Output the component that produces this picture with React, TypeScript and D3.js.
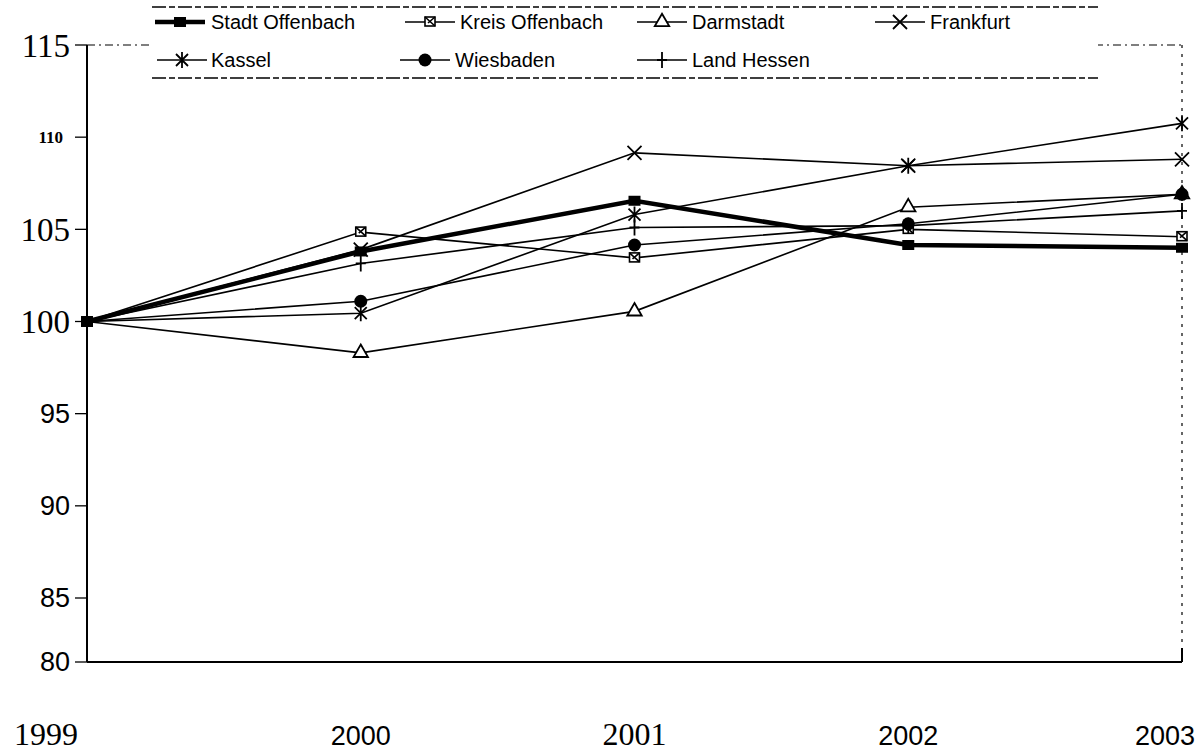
import React from "react";
import * as d3 from "d3";

const years = [1999, 2000, 2001, 2002, 2003];
const stadtOffenbach = [100, 103.8, 106.55, 104.15, 104.0];
const kreisOffenbach = [100, 104.85, 103.45, 105.0, 104.6];
const darmstadt = [100, 98.3, 100.55, 106.2, 106.9];
const frankfurt = [100, 103.9, 109.15, 108.45, 108.8];
const kassel = [100, 100.45, 105.8, 108.45, 110.75];
const wiesbaden = [100, 101.1, 104.15, 105.3, 106.9];
const landHessen = [100, 103.15, 105.1, 105.2, 106.0];

const yTicks = [80, 85, 90, 95, 100, 105, 110, 115];
const yTickFonts = ["sans", "sans", "sans", "sans", "serif", "serif", "serifBold", "serif"];
const xTickFonts = ["serif", "sans", "serif", "sans", "sans"];

type Marker = "square" | "kreis" | "triangle" | "x" | "star" | "circle" | "plus";
const seriesNames = ["Stadt Offenbach", "Kreis Offenbach", "Darmstadt", "Frankfurt", "Kassel", "Wiesbaden", "Land Hessen"];
const seriesValues = [stadtOffenbach, kreisOffenbach, darmstadt, frankfurt, kassel, wiesbaden, landHessen];
const seriesMarkers: Marker[] = ["square", "kreis", "triangle", "x", "star", "circle", "plus"];

const W = 1196;
const H = 754;

const x = d3.scaleLinear().domain([1999, 2003]).range([87, 1182]);
// the scanned original compresses the lowest band slightly
const y = d3.scaleLinear().domain([80, 85, 115]).range([662, 598, 45]);

function MarkerShape({ type, cx, cy }: { type: Marker; cx: number; cy: number }) {
  const k = "#000";
  switch (type) {
    case "square":
      return <rect x={cx - 6} y={cy - 5} width={12} height={10} fill={k} />;
    case "kreis":
      return (
        <g stroke={k} strokeWidth={1.6} fill="#fff">
          <rect x={cx - 5} y={cy - 5} width={10} height={9} />
          <path d={`M${cx - 5},${cy - 5}L${cx + 5},${cy + 4}M${cx + 5},${cy - 5}L${cx - 2},${cy + 1}`} />
        </g>
      );
    case "triangle":
      return (
        <path
          d={d3.symbol().type(d3.symbolTriangle).size(90)()!}
          transform={`translate(${cx},${cy})`}
          fill="#fff"
          stroke={k}
          strokeWidth={1.8}
        />
      );
    case "x":
      return (
        <path
          d={`M${cx - 7},${cy - 7}L${cx + 7},${cy + 7}M${cx + 7},${cy - 7}L${cx - 7},${cy + 7}`}
          stroke={k}
          strokeWidth={1.8}
        />
      );
    case "star":
      return (
        <path
          d={`M${cx - 6},${cy - 6}L${cx + 6},${cy + 6}M${cx + 6},${cy - 6}L${cx - 6},${cy + 6}M${cx},${cy - 8}L${cx},${cy + 8}`}
          stroke={k}
          strokeWidth={1.8}
        />
      );
    case "circle":
      return <circle cx={cx} cy={cy} r={6.5} fill={k} />;
    case "plus":
      return <path d={`M${cx},${cy - 8}L${cx},${cy + 8}M${cx - 5},${cy}L${cx + 5},${cy}`} stroke={k} strokeWidth={1.8} />;
  }
  return null;
}

const fontFor = (f: string) =>
  f === "sans"
    ? { fontFamily: "Liberation Sans, Arial, sans-serif", fontSize: 27, fontWeight: 400 }
    : f === "serifBold"
    ? { fontFamily: "Liberation Serif, Times New Roman, serif", fontSize: 17, fontWeight: 700 }
    : { fontFamily: "Liberation Serif, Times New Roman, serif", fontSize: 33, fontWeight: 400 };

export default function App() {
  const line = d3
    .line<number>()
    .x((_, i) => x(years[i]))
    .y((d) => y(d));

  const legendPos = [
    { lx: 155, ly: 22, tx: 211 },
    { lx: 405, ly: 22, tx: 460 },
    { lx: 637, ly: 22, tx: 692 },
    { lx: 875, ly: 22, tx: 930 },
    { lx: 157, ly: 60, tx: 211 },
    { lx: 400, ly: 60, tx: 455 },
    { lx: 637, ly: 60, tx: 692 },
  ];

  const order = [1, 2, 3, 4, 5, 6, 0];

  return (
    <svg
      width={W}
      height={H}
      style={{ position: "absolute", left: 0, top: 0, background: "#fff" }}
      xmlns="http://www.w3.org/2000/svg"
    >
      <rect width={W} height={H} fill="#fff" />
      {/* plot frame */}
      <line x1={x(1999)} x2={x(1999)} y1={y(115)} y2={y(80)} stroke="#000" strokeWidth={2} />
      <line x1={x(1999)} x2={x(2003)} y1={y(80)} y2={y(80)} stroke="#000" strokeWidth={2} />
      <line x1={x(1999)} x2={x(2003)} y1={y(115)} y2={y(115)} stroke="#000" strokeWidth={1.2} strokeDasharray="8 4 2 4" />
      <line x1={x(2003)} x2={x(2003)} y1={y(115)} y2={y(80)} stroke="#000" strokeWidth={1.2} strokeDasharray="3 6" />
      <line x1={x(2003)} x2={x(2003)} y1={y(80) - 14} y2={y(80)} stroke="#000" strokeWidth={2} />

      {/* y ticks */}
      {yTicks.map((t, i) => {
        const f = fontFor(yTickFonts[i]);
        return (
          <g key={t}>
            <line x1={x(1999) - 12} x2={x(1999)} y1={y(t)} y2={y(t)} stroke="#000" strokeWidth={1.3} />
            <text
              x={yTickFonts[i] === "serifBold" ? 63 : 70}
              y={y(t)}
              dy="0.35em"
              textAnchor="end"
              fontFamily={f.fontFamily}
              fontSize={f.fontSize}
              fontWeight={f.fontWeight}
            >
              {t}
            </text>
          </g>
        );
      })}

      {/* x labels */}
      {years.map((yr, i) => {
        const f = fontFor(xTickFonts[i]);
        const last = i === years.length - 1;
        const cx = i === 0 ? 46 : last ? 1195 : x(yr);
        return (
          <text
            key={yr}
            x={cx}
            y={745}
            textAnchor={last ? "end" : "middle"}
            fontFamily={f.fontFamily}
            fontSize={i === 0 || i === 2 ? 32 : 27}
            fontWeight={400}
          >
            {yr}
          </text>
        );
      })}

      {/* series lines */}
      {order.map((si) => (
        <path
          key={seriesNames[si]}
          d={line(seriesValues[si])!}
          fill="none"
          stroke="#000"
          strokeWidth={si === 0 ? 4.5 : 1.6}
        />
      ))}
      {order.map((si) =>
        seriesValues[si].map((v, i) => (
          <MarkerShape key={seriesNames[si] + i} type={i === 0 ? "square" : seriesMarkers[si]} cx={x(years[i])} cy={y(v)} />
        ))
      )}

      {/* legend */}
      <rect x={152} y={6} width={946} height={72} fill="#fff" />
      <line x1={152} x2={1098} y1={7} y2={7} stroke="#000" strokeWidth={1.5} strokeDasharray="14 3 6 3" />
      <line x1={152} x2={1098} y1={78} y2={78} stroke="#000" strokeWidth={1.5} strokeDasharray="14 3 6 3" />
      {seriesNames.map((name, si) => {
        const p = legendPos[si];
        return (
          <g key={name}>
            <line x1={p.lx} x2={p.lx + 50} y1={p.ly} y2={p.ly} stroke="#000" strokeWidth={si === 0 ? 4.5 : 1.6} />
            <MarkerShape type={seriesMarkers[si]} cx={p.lx + 25} cy={p.ly} />
            <text
              x={p.tx}
              y={p.ly}
              dy="0.35em"
              fontFamily="Liberation Sans, Arial, sans-serif"
              fontSize={20}
            >
              {name}
            </text>
          </g>
        );
      })}
    </svg>
  );
}
